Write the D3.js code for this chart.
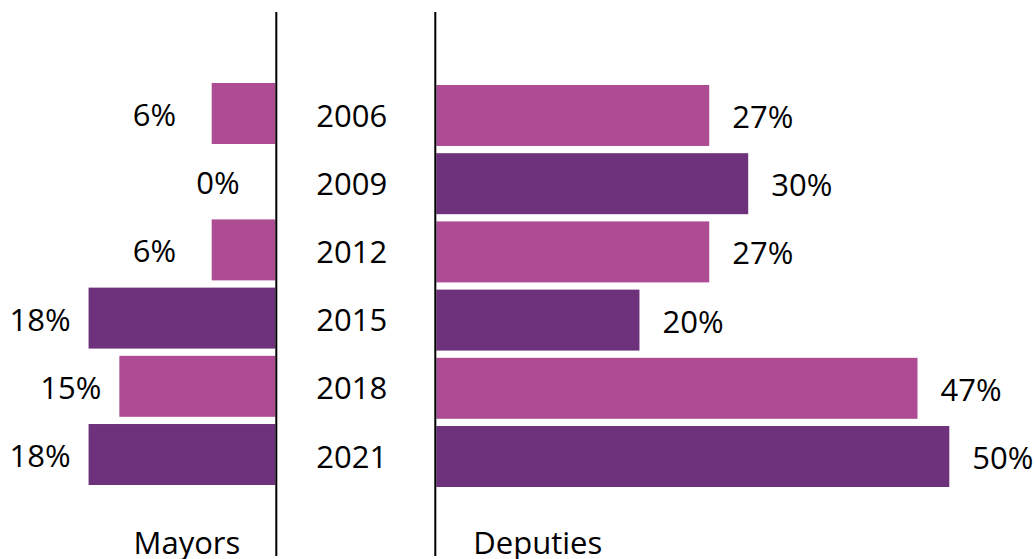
<!DOCTYPE html>
<html>
<head>
<meta charset="utf-8">
<script src="https://cdn.jsdelivr.net/npm/d3@7"></script>
<style>
  html, body { margin: 0; padding: 0; background: #fff; }
  svg { display: block; font-family: "Open Sans", "Noto Sans", sans-serif; }
</style>
</head>
<body>
<svg id="chart" width="1035" height="559"></svg>
<script>
const years = ["2006", "2009", "2012", "2015", "2018", "2021"];
const mayors = [6.2, 0, 6.2, 18.2, 15.2, 18.2];
const deputies = [26.6, 30.4, 26.6, 19.8, 46.9, 50];
const panelTitles = ["Mayors", "Deputies"];
const colors = ["#ad4b93", "#6e317c"];

const svg = d3.select("#chart");
const leftAxisX = 276.3, rightAxisX = 435.3;
const lineTop = 12, lineBottom = 556;

const yRight = d3.scaleBand().domain(years).range([85, 487]).paddingInner(0.106).paddingOuter(0);
const yLeft = d3.scaleBand().domain(years).range([83, 485]).paddingInner(0.106).paddingOuter(0);
const xLeft = d3.scaleLinear().domain([0, 50]).range([275.3, 275.3 - 513]);
const xRight = d3.scaleLinear().domain([0, 50]).range([436.3, 436.3 + 513]);
const fmt = v => Math.round(v) + "%";
const color = (d, i) => colors[i % 2];

// Mayors bars
svg.append("g").selectAll("rect").data(mayors).join("rect")
  .attr("x", d => xLeft(d))
  .attr("y", (d, i) => yLeft(years[i]))
  .attr("width", d => xLeft(0) - xLeft(d))
  .attr("height", yLeft.bandwidth())
  .attr("fill", color);

// Deputies bars
svg.append("g").selectAll("rect").data(deputies).join("rect")
  .attr("x", xRight(0))
  .attr("y", (d, i) => yRight(years[i]))
  .attr("width", d => xRight(d) - xRight(0))
  .attr("height", yRight.bandwidth())
  .attr("fill", color);

const fontSize = 31;

// Mayors labels
svg.append("g").selectAll("text").data(mayors).join("text")
  .attr("x", d => xLeft(d) - 79)
  .attr("y", (d, i) => yLeft(years[i]) + yLeft.bandwidth() / 2)
  .attr("dy", "0.4em")
  .attr("font-size", fontSize)
  .attr("fill", "#000")
  .text(fmt);

// Deputies labels
svg.append("g").selectAll("text").data(deputies).join("text")
  .attr("x", d => xRight(d) + 23)
  .attr("y", (d, i) => yRight(years[i]) + yRight.bandwidth() / 2)
  .attr("dy", "0.4em")
  .attr("font-size", fontSize)
  .attr("fill", "#000")
  .text(fmt);

// Year labels
svg.append("g").selectAll("text").data(years).join("text")
  .attr("x", leftAxisX + 40)
  .attr("y", d => yRight(d) + yRight.bandwidth() / 2)
  .attr("dy", "0.36em")
  .attr("font-size", fontSize)
  .attr("fill", "#000")
  .text(d => d);

// Axis lines
[leftAxisX, rightAxisX].forEach(x => {
  svg.append("line")
    .attr("x1", x).attr("x2", x)
    .attr("y1", lineTop).attr("y2", lineBottom)
    .attr("stroke", "#000").attr("stroke-width", 2);
});

// Panel titles
svg.append("text")
  .attr("x", leftAxisX - 36).attr("y", 554)
  .attr("text-anchor", "end")
  .attr("font-size", fontSize)
  .text(panelTitles[0]);
svg.append("text")
  .attr("x", rightAxisX + 38).attr("y", 554)
  .attr("text-anchor", "start")
  .attr("font-size", fontSize)
  .text(panelTitles[1]);
</script>
</body>
</html>
